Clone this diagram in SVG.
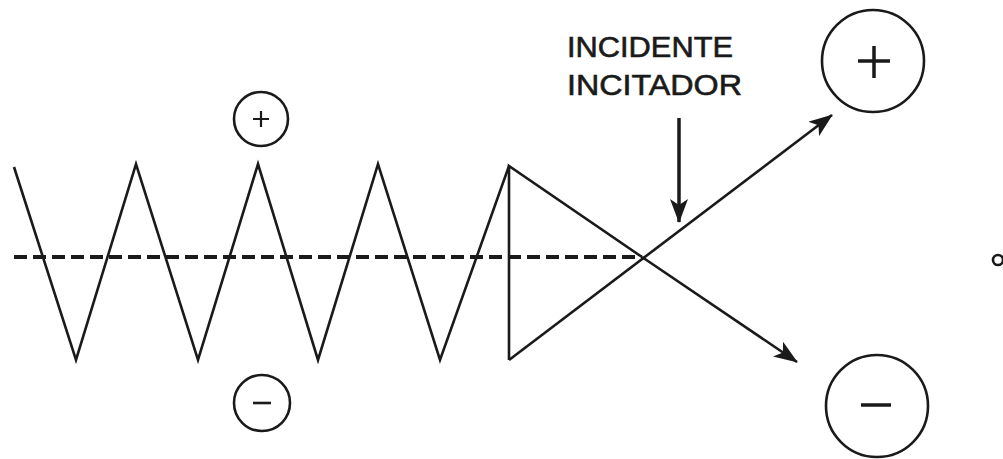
<svg xmlns="http://www.w3.org/2000/svg" width="1003" height="459" viewBox="0 0 1003 459">
<style>
.ln{fill:none;stroke:#1a1a1a;stroke-width:2.6;stroke-linejoin:miter}
.circ{fill:none;stroke:#1a1a1a;stroke-width:2.6}
.sign{stroke:#1a1a1a;fill:none}
.lbl{font-family:"Liberation Sans",Arial,sans-serif;font-size:29px;fill:#1a1a1a;stroke:#1a1a1a;stroke-width:0.6}
</style>
<defs>
<marker id="ah" viewBox="0 0 24 18" refX="23" refY="9" markerWidth="24" markerHeight="18" markerUnits="userSpaceOnUse" orient="auto">
<path d="M0,0 L24,9 L0,18 L6,9 Z" fill="#1a1a1a"/>
</marker>
</defs>
<g id="wave">
<polyline class="ln" points="14,167 76,360 136,164 198,360 258,164 318,360 378,164 440,360 509,166"/>
</g>
<g id="triangle">
<polyline class="ln" points="509,360 509,166 642,257"/>
</g>
<g id="axis">
<line x1="14" y1="257" x2="642" y2="257" stroke="#1a1a1a" stroke-width="4" stroke-dasharray="13,6"/>
</g>
<g id="connectors">
<line class="ln" x1="509" y1="360" x2="832" y2="115" marker-end="url(#ah)"/>
<line class="ln" x1="642" y1="257" x2="797" y2="362" marker-end="url(#ah)"/>
<line x1="679" y1="118" x2="679" y2="222" stroke="#1a1a1a" stroke-width="3.5" marker-end="url(#ah)"/>
</g>
<g id="label">
<text class="lbl" x="567" y="57" textLength="166" lengthAdjust="spacingAndGlyphs">INCIDENTE</text>
<text class="lbl" x="567" y="95" textLength="175" lengthAdjust="spacingAndGlyphs">INCITADOR</text>
</g>
<g id="plus-small">
<circle class="circ" cx="261" cy="119" r="27"/>
<path class="sign" stroke-width="2.2" d="M253,119 H269 M261,111 V127"/>
</g>
<g id="minus-small">
<circle class="circ" cx="262" cy="403" r="28"/>
<path class="sign" stroke-width="2.6" d="M253,403 H271"/>
</g>
<g id="plus-big">
<circle class="circ" cx="873" cy="61" r="51"/>
<path class="sign" stroke-width="3.5" d="M858,61 H890 M874,46 V78"/>
</g>
<g id="minus-big">
<circle class="circ" cx="877" cy="406" r="51"/>
<path class="sign" stroke-width="3.5" d="M861,405 H891"/>
</g>
<g id="edge">
<circle class="circ" cx="998" cy="260" r="5" stroke-width="2.4"/>
</g>
</svg>
